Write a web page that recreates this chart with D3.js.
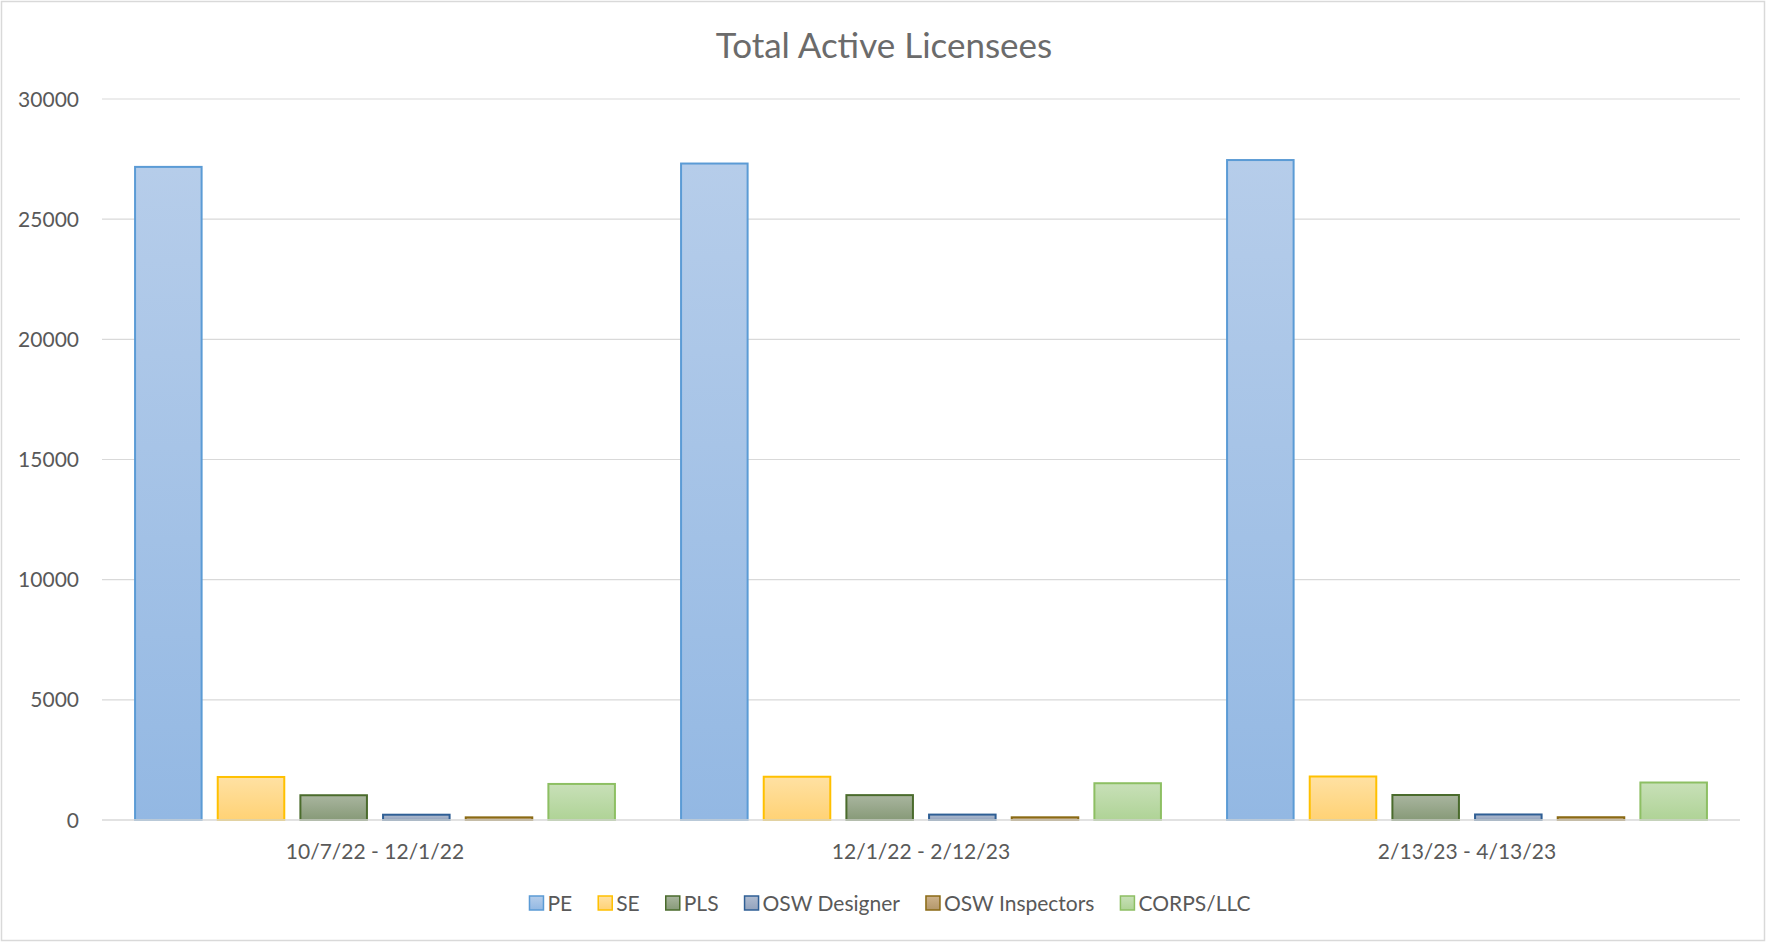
<!DOCTYPE html>
<html>
<head>
<meta charset="utf-8">
<script src="https://cdn.jsdelivr.net/npm/d3@7"></script>
<style>
  html, body { margin: 0; padding: 0; background: #fff; }
  svg text { font-family: Lato, "Open Sans", sans-serif; fill: #595959; }
</style>
</head>
<body>
<svg id="chart" width="1766" height="942"></svg>
<script>
// values
const periods = ['10/7/22 - 12/1/22', '12/1/22 - 2/12/23', '2/13/23 - 4/13/23'];
const seriesNames = ['PE', 'SE', 'PLS', 'OSW Designer', 'OSW Inspectors', 'CORPS/LLC'];
const pe = [27175, 27315, 27460];
const se = [1790, 1800, 1810];
const pls = [1030, 1035, 1040];
const oswDesigner = [220, 225, 230];
const oswInspectors = [110, 112, 115];
const corps = [1500, 1530, 1560];
const yTicks = [0, 5000, 10000, 15000, 20000, 25000, 30000];

const seriesValues = [pe, se, pls, oswDesigner, oswInspectors, corps];

// fill top, fill bottom, outline
const styles = [
  ['#b6cdea', '#93b8e3', '#5b9bd5'],
  ['#ffe1a3', '#ffd275', '#ffc000'],
  ['#a9b59f', '#879a78', '#4a6b2c'],
  ['#b0bcd0', '#93a3bd', '#2f5f95'],
  ['#cdb28b', '#b3976a', '#8a6a14'],
  ['#c8e0b8', '#afd396', '#8dbf63']
];

const svg = d3.select('#chart');
const W = 1766, H = 942;
const margin = { left: 102, right: 26, top: 99, bottom: 122 };

svg.append('rect')
  .attr('x', 1.5).attr('y', 1.5)
  .attr('width', W - 3).attr('height', H - 3)
  .attr('fill', '#fff')
  .attr('stroke', '#d9d9d9')
  .attr('stroke-width', 1.5);

const defs = svg.append('defs');
styles.forEach((s, i) => {
  const g = defs.append('linearGradient')
    .attr('id', 'grad' + i)
    .attr('x1', 0).attr('y1', 0).attr('x2', 0).attr('y2', 1);
  g.append('stop').attr('offset', '0%').attr('stop-color', s[0]);
  g.append('stop').attr('offset', '100%').attr('stop-color', s[1]);
});

const x0 = d3.scaleBand()
  .domain(periods)
  .range([margin.left, W - margin.right]);

const x1 = d3.scaleBand()
  .domain(seriesNames)
  .range([0, x0.bandwidth()])
  .paddingInner(0.195)
  .paddingOuter(0.4);

const y = d3.scaleLinear()
  .domain([0, 30000])
  .range([H - margin.bottom, margin.top]);

// gridlines
svg.append('g')
  .selectAll('line')
  .data(yTicks.filter(d => d > 0))
  .join('line')
  .attr('x1', margin.left).attr('x2', W - margin.right)
  .attr('y1', d => y(d)).attr('y2', d => y(d))
  .attr('stroke', '#d9d9d9')
  .attr('stroke-width', 1.2);

// y labels
svg.append('g')
  .selectAll('text')
  .data(yTicks)
  .join('text')
  .attr('x', 79)
  .attr('y', d => y(d))
  .attr('dy', '0.36em')
  .attr('text-anchor', 'end')
  .style('font-size', '21px')
  .text(d => d);

// bars
const groups = svg.append('g')
  .selectAll('g')
  .data(periods)
  .join('g')
  .attr('transform', d => `translate(${x0(d)},0)`);

groups.selectAll('rect')
  .data((p, pi) => seriesNames.map((s, si) => ({ s, si, v: seriesValues[si][pi] })))
  .join('rect')
  .attr('x', d => x1(d.s))
  .attr('y', d => y(d.v))
  .attr('width', x1.bandwidth())
  .attr('height', d => y(0) - y(d.v))
  .attr('fill', d => `url(#grad${d.si})`)
  .attr('stroke', d => styles[d.si][2])
  .attr('stroke-width', 2);

// baseline
svg.append('line')
  .attr('x1', margin.left).attr('x2', W - margin.right)
  .attr('y1', y(0)).attr('y2', y(0))
  .attr('stroke', '#d9d9d9')
  .attr('stroke-width', 1.5);

// category labels
svg.append('g')
  .selectAll('text')
  .data(periods)
  .join('text')
  .attr('x', d => x0(d) + x0.bandwidth() / 2)
  .attr('y', 851)
  .attr('dy', '0.36em')
  .attr('text-anchor', 'middle')
  .style('font-size', '21px')
  .text(d => d);

// title
svg.append('text')
  .attr('x', 884)
  .attr('y', 45)
  .attr('dy', '0.36em')
  .attr('text-anchor', 'middle')
  .style('font-size', '35px')
  .style('fill', '#6b6b6b')
  .text('Total Active Licensees');

// legend
const legend = svg.append('g');
let lx = 0;
seriesNames.forEach((name, i) => {
  const item = legend.append('g').attr('transform', `translate(${lx},0)`);
  item.append('rect')
    .attr('x', 0).attr('y', -7)
    .attr('width', 14).attr('height', 14)
    .attr('fill', `url(#grad${i})`)
    .attr('stroke', styles[i][2])
    .attr('stroke-width', 1.5);
  const t = item.append('text')
    .attr('x', 18)
    .attr('y', 0)
    .attr('dy', '0.36em')
    .style('font-size', '21px')
    .text(name);
  lx += 18 + t.node().getComputedTextLength() + 26;
});
lx -= 26;
legend.attr('transform', `translate(${890 - lx / 2},903)`);
</script>
</body>
</html>
